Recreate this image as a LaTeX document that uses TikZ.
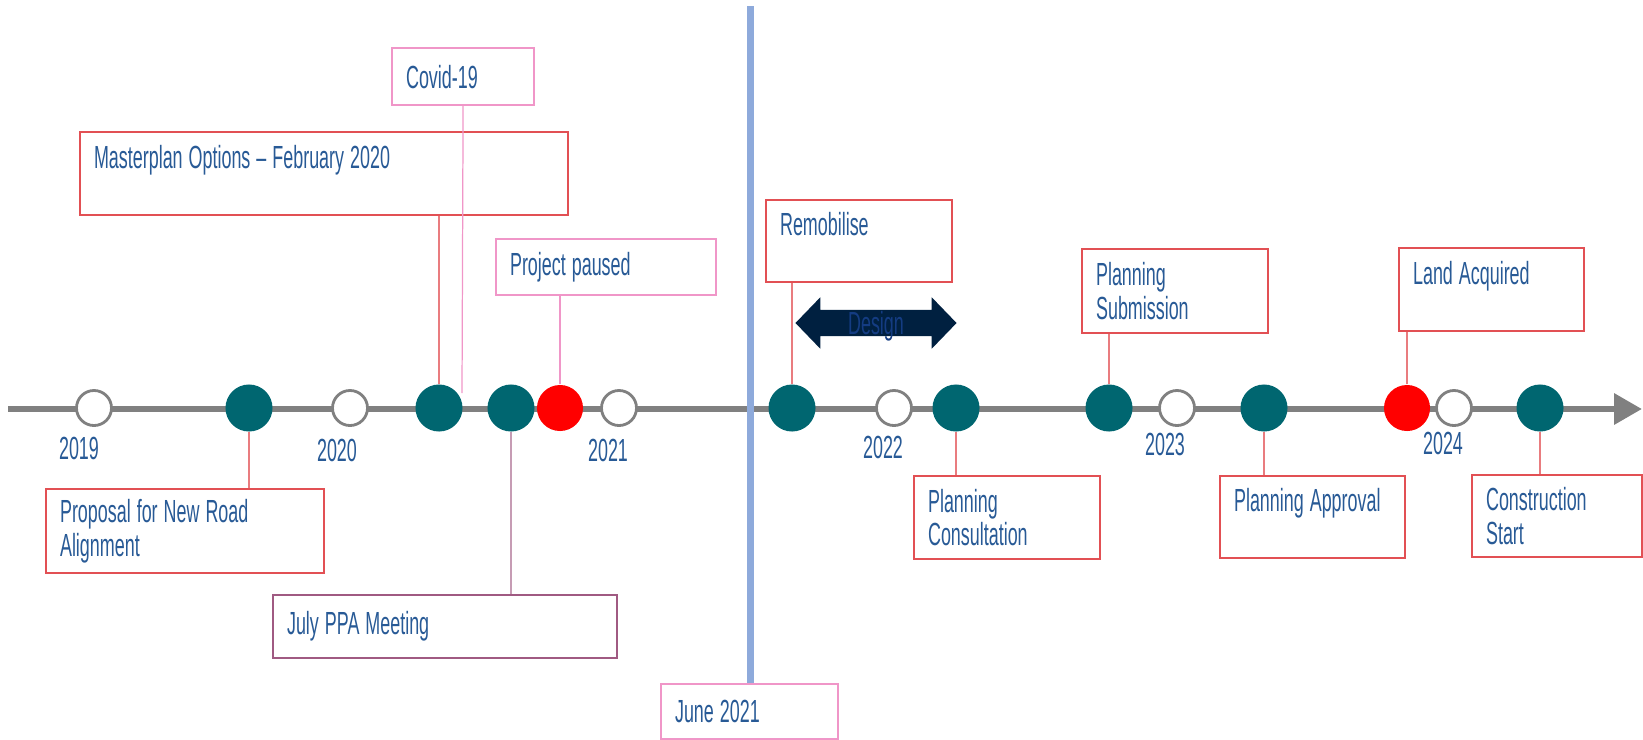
\documentclass[tikz,border=0pt]{standalone}
\usepackage{fontspec}
\setmainfont[FakeStretch=0.56]{Liberation Sans}
\usetikzlibrary{arrows.meta,shapes.arrows}

\definecolor{txtblue}{RGB}{40,90,150}
\definecolor{dotteal}{RGB}{0,102,112}
\definecolor{axisgray}{RGB}{128,128,128}
\definecolor{boxred}{RGB}{226,80,84}
\definecolor{boxpink}{RGB}{240,150,200}
\definecolor{boxplum}{RGB}{160,90,130}
\definecolor{juneblue}{RGB}{142,170,219}
\definecolor{designnavy}{RGB}{0,32,64}
\definecolor{designtxt}{RGB}{20,60,130}

\newcommand{\tlfont}{\fontsize{9.1}{9.6}\selectfont\spaceskip=0.06cm plus 0.02cm\relax}

\begin{document}
\begin{tikzpicture}[
    x=0.01cm, y=-0.01cm,
    font=\tlfont, text=txtblue,
    axis/.style={draw=axisgray, line width=0.065cm, -{Triangle[length=0.28cm, width=0.30cm]}},
    juneline/.style={draw=juneblue, line width=0.07cm},
    evbox/.style={rectangle, draw=boxred, line width=0.6pt, fill=white, anchor=north west, align=flush left, inner xsep=0.14cm, inner ysep=0pt},
    pinkbox/.style={evbox, draw=boxpink},
    plumbox/.style={evbox, draw=boxplum},
    opendot/.style={circle, draw=axisgray, line width=0.8pt, fill=white, minimum size=0.35cm, inner sep=0pt},
    keydot/.style={circle, fill=dotteal, minimum size=0.47cm, inner sep=0pt},
    reddot/.style={circle, fill=red, minimum size=0.46cm, inner sep=0pt},
    link/.style={draw=boxred!75, line width=0.35pt},
    pinklink/.style={draw=boxpink, line width=0.35pt},
    plumlink/.style={draw=boxplum!60, line width=0.35pt},
    designarrow/.style={double arrow, fill=designnavy, text=designtxt, minimum height=1.61cm, minimum width=0.5cm, inner sep=0pt, text height=0.24cm, text depth=0.01cm, double arrow head extend=0.125cm, double arrow tip angle=92}
]
    \useasboundingbox (0,0) rectangle (1643,739);

    \coordinate (axisstart) at (8,409);
    \coordinate (axisend) at (1642,409);
    \draw[axis] (axisstart) -- (axisend);

    \node[pinkbox, text width=1.49cm, minimum height=0.55cm] (june) at (660,683) {June 2021};
    \coordinate (junetop) at (750,6);
    \draw[juneline] (junetop) -- (junetop |- june.north);

    \node[opendot] (o19) at (94,408) {};
    \node[keydot] (k1) at (249,408) {};
    \node[opendot] (o20) at (350,408) {};
    \node[keydot] (k2) at (439,408) {};
    \node[keydot] (k3) at (511,408) {};
    \node[reddot] (r1) at (560,408) {};
    \node[opendot] (o21) at (619,408) {};
    \node[keydot] (k4) at (792,408) {};
    \node[opendot] (o22) at (894,408) {};
    \node[keydot] (k5) at (956,408) {};
    \node[keydot] (k6) at (1109,408) {};
    \node[opendot] (o23) at (1177,408) {};
    \node[keydot] (k7) at (1264,408) {};
    \node[reddot] (r2) at (1407,408) {};
    \node[opendot] (o24) at (1454,408) {};
    \node[keydot] (k8) at (1540,408) {};

    \node (y19) at (79,448) {2019};
    \node (y20) at (337,450) {2020};
    \node (y21) at (608,450) {2021};
    \node (y22) at (883,447) {2022};
    \node (y23) at (1165,444) {2023};
    \node (y24) at (1443,443) {2024};

    \node[pinkbox, text width=1.14cm, minimum height=0.57cm] (covid) at (391,47) {Covid-19};
    \node[evbox, text width=4.60cm, minimum height=0.83cm] (master) at (79,131) {Masterplan Options -- February 2020\\ \mbox{}};
    \node[pinkbox, text width=1.92cm, minimum height=0.56cm] (paused) at (495,238) {Project paused};
    \node[evbox, text width=1.58cm, minimum height=0.82cm] (remob) at (765,199) {Remobilise\\ \mbox{}};
    \node[evbox, text width=1.58cm, minimum height=0.84cm] (subm) at (1081,248) {Planning\\Submission};
    \node[evbox, text width=1.57cm, minimum height=0.83cm] (land) at (1398,247) {Land Acquired\\ \mbox{}};
    \node[evbox, text width=2.50cm, minimum height=0.84cm] (propo) at (45,488) {Proposal for New Road\\Alignment};
    \node[plumbox, text width=3.16cm, minimum height=0.63cm] (july) at (272,594) {July PPA Meeting};
    \node[evbox, text width=1.58cm, minimum height=0.83cm] (consult) at (913,475) {Planning\\Consultation};
    \node[evbox, text width=1.57cm, minimum height=0.82cm] (approv) at (1219,475) {Planning Approval\\ \mbox{}};
    \node[evbox, text width=1.42cm, minimum height=0.82cm] (constr) at (1471,474) {Construction\\Start};

    \coordinate (covidend) at (462,393);
    \draw[pinklink] (covid.south) -- (covidend);
    \draw[link] (k2.north) -- (k2.north |- master.south);
    \draw[link] (k1.south) -- (k1.south |- propo.north);
    \draw[plumlink] (k3.south) -- (k3.south |- july.north);
    \draw[pinklink] (r1.north) -- (r1.north |- paused.south);
    \draw[link] (k4.north) -- (k4.north |- remob.south);
    \draw[link] (k5.south) -- (k5.south |- consult.north);
    \draw[link] (k6.north) -- (k6.north |- subm.south);
    \draw[link] (k7.south) -- (k7.south |- approv.north);
    \draw[link] (r2.north) -- (r2.north |- land.south);
    \draw[link] (k8.south) -- (k8.south |- constr.north);

    \node[designarrow] (design) at (876,323) {Design};
\end{tikzpicture}
\end{document}
